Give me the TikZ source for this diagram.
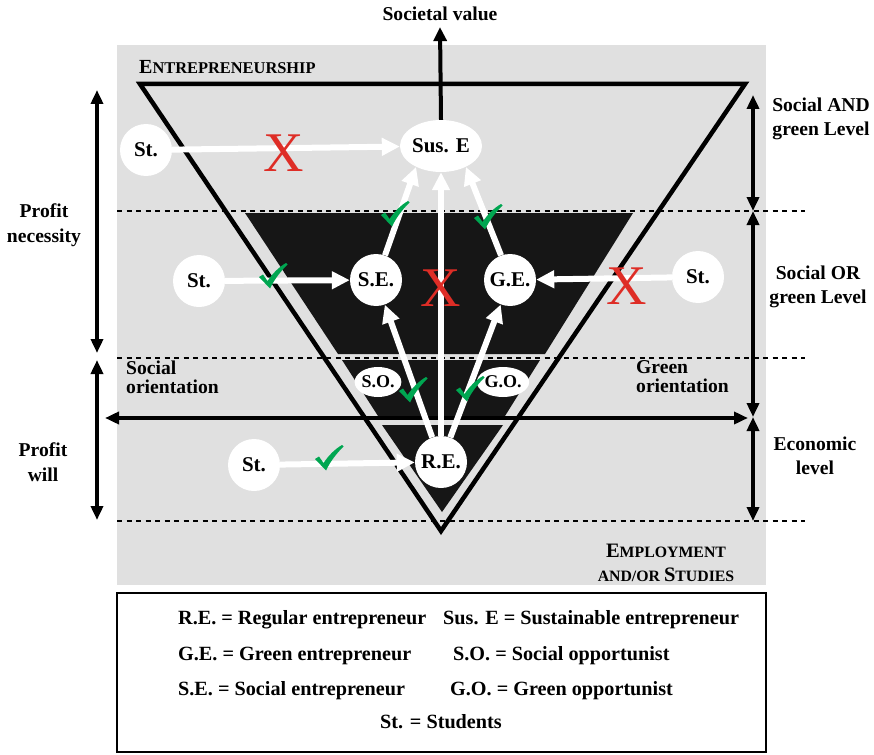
\documentclass[tikz,border=0pt]{standalone}
\usepackage{fontspec}
\setmainfont{Liberation Serif}
\usetikzlibrary{arrows.meta,shapes.geometric}
\definecolor{bggray}{RGB}{224,224,224}
\definecolor{bandblack}{RGB}{22,22,22}
\definecolor{xred}{RGB}{222,45,38}
\definecolor{chkgreen}{RGB}{0,166,81}
\begin{document}
\begin{tikzpicture}[x=1pt,y=-1pt,
  whitearrow/.style={draw=white,line width=6pt,-{Triangle[length=18pt,width=17pt]}},
  levelarrow/.style={draw=black,line width=3.5pt,{Triangle[length=14pt,width=12pt]}-{Triangle[length=14pt,width=12pt]}},
  blackarrow/.style={draw=black,line width=4pt,-{Triangle[length=14pt,width=13pt]}},
  dashline/.style={draw=black,line width=1.3pt,dash pattern=on 5pt off 4.5pt},
  stnode/.style={circle,fill=white,minimum size=52pt,inner sep=0pt,font=\fontsize{21}{24}\selectfont\bfseries},
  smallell/.style={ellipse,fill=white,minimum width=41pt,minimum height=30pt,inner sep=0pt,font=\fontsize{18}{20}\selectfont\bfseries},
  lbl/.style={font=\fontsize{19.6}{24.5}\selectfont\bfseries,align=center,inner sep=0pt},
  lbltight/.style={font=\fontsize{19.6}{19}\selectfont\bfseries,align=left,inner sep=0pt},
  legtext/.style={font=\fontsize{20.2}{24}\selectfont\bfseries,inner sep=0pt},
  redx/.style={font=\fontsize{56}{56}\selectfont,text=xred,inner sep=0pt},
  chk/.pic={\fill[chkgreen] (-14,1) -- (-10,-1.5) -- (-5.5,5) .. controls (0,-3) and (6,-9) .. (13,-13) -- (14.5,-11.5) .. controls (7,-4) and (1,4) .. (-3,12.5) -- cycle;}
]
\useasboundingbox (0,0) rectangle (874,754);
\fill[white] (0,0) rectangle (874,754);
% background
\fill[bggray] (117,45) rectangle (766,585);
% dashed level lines
\draw[dashline] (117,211) -- (805,211);
\draw[dashline] (117,358) -- (805,358);
\draw[dashline] (117,521) -- (805,521);
% outer triangle
\draw[line width=4.5pt,line join=miter] (140,84) -- (745,84) -- (441,531) -- cycle;
% black bands
\fill[bandblack] (245,213) -- (633,213) -- (545,354) -- (338,354) -- cycle;
\fill[bandblack] (342,360) -- (540,360) -- (505,416) -- (378,416) -- cycle;
\fill[bandblack] (382,425) -- (503,425) -- (442,512) -- cycle;
% level arrows
\coordinate (rA) at (753,95);
\coordinate (rB) at (753,211);
\coordinate (rC) at (753,417);
\coordinate (rD) at (753,521);
\coordinate (lA) at (97,90);
\coordinate (lB) at (97,353);
\coordinate (lC) at (97,360);
\coordinate (lD) at (97,520);
\coordinate (hL) at (105,418);
\coordinate (hR) at (748,418);
\draw[levelarrow] (rA) -- (rB);
\draw[levelarrow] (rB) -- (rC);
\draw[levelarrow] (rC) -- (rD);
\draw[levelarrow] (lA) -- (lB);
\draw[levelarrow] (lC) -- (lD);
\draw[levelarrow,line width=4pt] (hL) -- (hR);
% nodes
\node[ellipse,fill=white,minimum width=82pt,minimum height=52pt,inner sep=0pt,font=\fontsize{21}{24}\selectfont\bfseries] (SusE) at (441,146) {Sus. E};
\node[stnode] (St1) at (146,150) {St.};
\node[stnode] (St2) at (199,281) {St.};
\node[stnode] (St3) at (698,277) {St.};
\node[stnode] (St4) at (254,465) {St.};
\node[stnode] (SE) at (376,280) {S.E.};
\node[stnode] (GE) at (510,280) {G.E.};
\node[stnode] (RE) at (441,462) {R.E.};
\node[smallell] (SO) at (378,382) {S.O.};
\node[smallell] (GO) at (503,382) {G.O.};
% societal value
\node[lbl] (sv) at (440,14) {Societal value};
\draw[blackarrow] (SusE.north) -- ([yshift=-6pt]sv.south);
% white arrows
\draw[whitearrow] (St1) -- (SusE);
\draw[whitearrow] (St2) -- (SE);
\draw[whitearrow] (St3) -- (GE);
\draw[whitearrow] (St4) -- (RE);
\draw[whitearrow] (RE) -- (SE);
\draw[whitearrow] (RE) -- (GE);
\draw[whitearrow] (RE) -- (SusE);
\draw[whitearrow] (SE.70) -- (SusE.220);
\draw[whitearrow] (GE.110) -- (SusE.320);
% marks
\node[redx] (x1) at (284,153) {X};
\node[redx] (x2) at (441,288) {X};
\node[redx] (x3) at (627,286) {X};
\pic at (273,276) {chk};
\pic at (395,214) {chk};
\pic at (488,217) {chk};
\pic at (413,390) {chk};
\pic at (470,389) {chk};
\pic at (329,458) {chk};
% labels
\node[inner sep=0pt,anchor=base west] (entr) at (139,74) {\bfseries{\fontsize{20}{24}\selectfont E}{\fontsize{16.4}{24}\selectfont NTREPRENEURSHIP}};
\node[inner sep=0pt,anchor=base] (empl1) at (666,557) {\bfseries{\fontsize{20.5}{24}\selectfont E}{\fontsize{15.8}{24}\selectfont MPLOYMENT}};
\node[inner sep=0pt,anchor=base] (empl2) at (666,581) {\bfseries{\fontsize{15.8}{24}\selectfont AND/OR }{\fontsize{20.5}{24}\selectfont S}{\fontsize{15.8}{24}\selectfont TUDIES}};
\node[lbl] (pn) at (44,225) {Profit\\necessity};
\node[lbl] (pw) at (43,462) {Profit\\will};
\node[lbl] (sag) at (821,119) {Social AND\\green Level};
\node[lbl] (sog) at (818,287) {Social OR\\green Level};
\node[lbl] (eco) at (815,456) {Economic\\level};
\node[lbltight,anchor=west] (so) at (126,377) {Social\\orientation};
\node[lbltight,anchor=west] (go) at (636,377) {Green\\orientation};
% legend
\draw[line width=1.3pt,fill=white] (117,593) rectangle (766,752);
\node[legtext,anchor=base west] (l1a) at (178,624) {R.E. = Regular entrepreneur};
\node[legtext,anchor=base west] (l1b) at (443,624) {Sus. E = Sustainable entrepreneur};
\node[legtext,anchor=base west] (l2a) at (178,660) {G.E. = Green entrepreneur};
\node[legtext,anchor=base west] (l2b) at (453,660) {S.O. = Social opportunist};
\node[legtext,anchor=base west] (l3a) at (178,695) {S.E. = Social entrepreneur};
\node[legtext,anchor=base west] (l3b) at (450,695) {G.O. = Green opportunist};
\node[legtext,anchor=base] (l4) at (441,728) {St. = Students};
\end{tikzpicture}
\end{document}
